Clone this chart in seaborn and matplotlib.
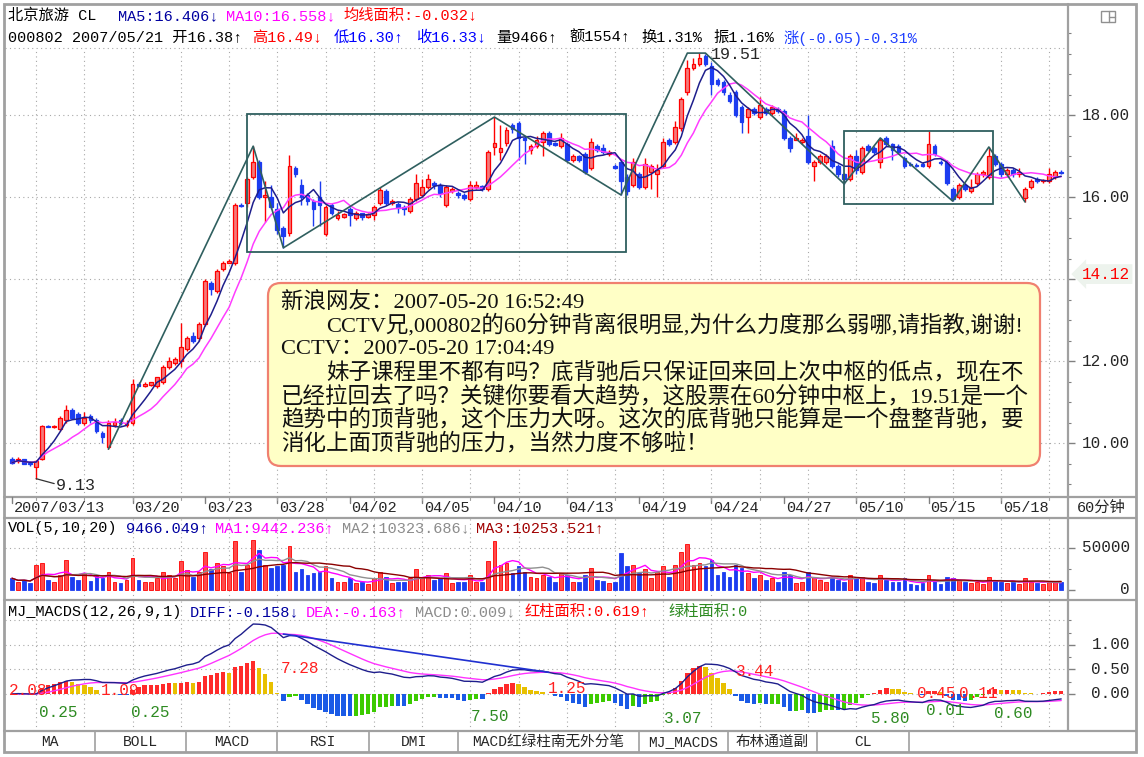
import numpy as np
import pandas as pd
import matplotlib
matplotlib.use("Agg")
import matplotlib.pyplot as plt
import matplotlib.transforms as mtrans
from matplotlib.patches import Rectangle, FancyBboxPatch
import seaborn as sns

# ---------------- data (60-minute bars, 000802 北京旅游) ----------------
opens = [9.60, 9.55, 9.60, 9.52, 9.42, 9.60, 10.42, 10.40, 10.35, 10.55,
         10.80, 10.70, 10.50, 10.65, 10.55, 10.25, 9.90, 10.45, 10.55, 10.45,
         10.50, 11.45, 11.40, 11.42, 11.40, 11.50, 11.85, 11.95, 12.00, 12.30,
         12.60, 12.55, 12.90, 13.90, 13.70, 14.25, 14.40, 14.40, 15.80, 15.85,
         16.49, 16.85, 16.00, 16.00, 15.70, 15.25, 15.12, 16.70, 16.30, 16.05,
         15.90, 16.00, 15.10, 15.80, 15.50, 15.52, 15.70, 15.50, 15.60, 15.52,
         15.55, 15.85, 16.15, 15.85, 15.82, 15.75, 15.65, 15.95, 16.05, 16.25,
         16.35, 16.30, 15.80, 16.15, 16.10, 16.05, 15.95, 16.25, 16.28, 16.20,
         17.22, 17.10, 17.32, 17.75, 17.80, 17.45, 17.15, 17.25, 17.35, 17.55,
         17.32, 17.25, 17.30, 16.90, 17.00, 17.05, 16.70, 17.25, 17.20, 17.05,
         16.75, 16.85, 16.50, 16.30, 16.55, 16.25, 16.60, 16.55, 16.75, 17.40,
         17.35, 17.68, 18.55, 19.15, 19.25, 19.45, 19.20, 18.85, 18.80, 18.50,
         18.55, 18.20, 17.95, 18.15, 17.95, 18.15, 18.05, 18.15, 18.10, 17.45,
         17.40, 17.35, 17.50, 16.75, 16.85, 16.85, 17.25, 16.75, 16.55, 16.45,
         17.00, 16.60, 17.25, 17.20, 16.85, 17.45, 17.30, 17.25, 16.95, 16.80,
         16.78, 16.80, 16.75, 17.25, 16.85, 16.85, 16.20, 16.00, 16.30, 16.15,
         16.35, 16.55, 16.50, 17.00, 16.80, 16.55, 16.65, 16.55, 15.98, 16.25,
         16.45, 16.38, 16.40, 16.50, 16.62]
highs = [9.65, 9.66, 9.62, 9.56, 9.58, 10.45, 10.45, 10.44, 10.65, 10.93,
         10.85, 10.75, 10.75, 10.70, 10.60, 10.30, 10.55, 10.60, 10.60, 10.55,
         11.55, 11.50, 11.48, 11.50, 11.62, 11.90, 12.10, 12.10, 12.93, 12.60,
         12.70, 12.95, 14.00, 13.95, 14.25, 14.45, 14.50, 15.85, 15.85, 16.50,
         17.24, 16.90, 16.40, 16.30, 15.85, 15.30, 17.02, 16.75, 16.45, 16.10,
         15.95, 16.40, 15.80, 15.85, 15.65, 15.62, 15.75, 15.65, 15.62, 15.62,
         15.80, 16.25, 16.20, 15.95, 15.88, 15.80, 16.00, 16.55, 16.45, 16.55,
         16.40, 16.35, 16.30, 16.25, 16.15, 16.10, 16.40, 16.38, 16.30, 17.15,
         17.95, 17.75, 17.70, 17.80, 17.85, 17.50, 17.30, 17.50, 17.60, 17.60,
         17.35, 17.55, 17.35, 17.05, 17.02, 17.10, 17.45, 17.30, 17.30, 17.15,
         16.80, 16.90, 16.55, 16.95, 16.60, 16.95, 16.80, 16.80, 17.45, 17.45,
         17.85, 18.45, 19.35, 19.40, 19.51, 19.50, 19.30, 18.90, 18.85, 18.55,
         18.60, 18.25, 18.20, 18.20, 18.45, 18.20, 18.25, 18.20, 18.15, 17.50,
         17.55, 17.45, 18.00, 16.90, 17.05, 17.05, 17.40, 16.80, 16.58, 17.05,
         17.15, 17.25, 17.30, 17.25, 17.44, 17.50, 17.32, 17.30, 17.00, 16.85,
         16.82, 16.85, 17.60, 17.30, 16.90, 16.90, 16.25, 16.35, 16.35, 16.45,
         16.60, 16.65, 17.22, 17.05, 16.85, 16.70, 16.70, 16.70, 16.25, 16.45,
         16.48, 16.45, 16.70, 16.65, 16.65]
lows = [9.50, 9.52, 9.48, 9.45, 9.13, 9.58, 10.38, 10.36, 10.30, 10.50,
        10.60, 10.45, 10.45, 10.50, 10.25, 10.00, 9.85, 10.40, 10.45, 10.40,
        10.45, 11.38, 11.36, 11.40, 11.35, 11.45, 11.80, 11.90, 11.85, 12.25,
        12.45, 12.50, 12.85, 13.60, 13.65, 14.20, 14.38, 14.35, 15.75, 15.75,
        16.45, 15.95, 15.40, 15.70, 15.10, 14.76, 15.05, 16.50, 15.80, 15.80,
        15.30, 15.30, 15.05, 15.55, 15.45, 15.48, 15.30, 15.45, 15.45, 15.48,
        15.45, 15.80, 15.80, 15.80, 15.60, 15.55, 15.60, 15.90, 16.00, 16.20,
        16.20, 16.00, 15.75, 16.10, 15.98, 15.92, 15.90, 16.20, 16.15, 16.15,
        17.02, 16.90, 17.25, 17.55, 16.90, 16.80, 17.05, 17.20, 17.00, 17.25,
        17.25, 17.20, 16.85, 16.85, 16.85, 16.55, 16.65, 17.10, 17.05, 17.00,
        16.68, 16.05, 16.05, 16.25, 16.20, 16.20, 16.20, 16.00, 16.70, 17.25,
        17.30, 17.60, 18.50, 19.10, 19.20, 19.20, 18.50, 18.70, 18.50, 18.30,
        17.95, 17.56, 17.56, 18.00, 17.90, 18.00, 18.00, 18.05, 17.40, 17.10,
        17.38, 17.30, 16.80, 16.40, 16.80, 16.80, 16.70, 16.50, 16.32, 16.40,
        16.55, 16.55, 17.10, 17.05, 16.70, 17.25, 16.90, 17.05, 16.70, 16.75,
        16.72, 16.72, 16.70, 17.00, 16.78, 16.30, 15.90, 15.95, 16.15, 16.10,
        16.30, 16.50, 16.45, 16.75, 16.50, 16.50, 16.50, 16.50, 15.88, 16.20,
        16.35, 16.35, 16.35, 16.45, 16.55]
closes = [9.52, 9.62, 9.50, 9.48, 9.55, 10.42, 10.40, 10.42, 10.60, 10.80,
          10.62, 10.50, 10.62, 10.55, 10.30, 10.15, 10.50, 10.52, 10.48, 10.50,
          11.45, 11.40, 11.45, 11.48, 11.60, 11.85, 12.00, 12.05, 12.35, 12.55,
          12.50, 12.90, 13.95, 13.75, 14.20, 14.40, 14.45, 15.80, 15.78, 16.45,
          16.85, 16.00, 16.05, 15.76, 15.20, 15.05, 16.76, 16.55, 16.00, 15.90,
          15.70, 15.80, 15.75, 15.60, 15.55, 15.58, 15.55, 15.60, 15.52, 15.58,
          15.75, 16.18, 15.85, 15.90, 15.72, 15.70, 15.95, 16.35, 16.25, 16.45,
          16.30, 16.10, 16.25, 16.20, 16.05, 15.98, 16.30, 16.30, 16.20, 17.10,
          17.32, 17.20, 17.63, 17.65, 17.45, 17.40, 17.25, 17.40, 17.55, 17.30,
          17.28, 17.45, 16.90, 17.00, 16.90, 16.60, 17.35, 17.15, 17.10, 17.10,
          16.70, 16.40, 16.15, 16.85, 16.25, 16.80, 16.75, 16.65, 17.35, 17.30,
          17.70, 18.40, 19.15, 19.25, 19.40, 19.25, 18.75, 18.75, 18.55, 18.35,
          18.00, 17.83, 18.15, 18.05, 18.25, 18.05, 18.20, 18.10, 17.45, 17.20,
          17.45, 17.40, 16.85, 16.85, 17.00, 17.00, 16.75, 16.55, 16.45, 17.00,
          16.65, 17.20, 17.15, 17.10, 17.40, 17.30, 17.15, 17.10, 16.75, 16.78,
          16.76, 16.75, 17.30, 17.05, 16.82, 16.35, 15.95, 16.30, 16.20, 16.25,
          16.55, 16.60, 17.00, 16.80, 16.55, 16.65, 16.55, 16.62, 16.20, 16.40,
          16.38, 16.42, 16.55, 16.60, 16.58]
volumes = [14000, 9000, 12000, 8000, 30000, 32000, 12000, 10000, 18000, 36000,
           15000, 12000, 20000, 11000, 17000, 14000, 22000, 9000, 8000, 12000,
           38000, 12000, 9000, 10000, 14000, 22000, 18000, 14000, 35000, 24000,
           16000, 22000, 45000, 25000, 32000, 28000, 20000, 58000, 22000, 30000,
           60000, 48000, 30000, 26000, 28000, 30000, 52000, 22000, 25000, 18000,
           20000, 22000, 28000, 14000, 10000, 9000, 14000, 8000, 9000, 7000,
           14000, 22000, 15000, 8000, 10000, 9000, 14000, 25000, 16000, 18000,
           12000, 14000, 20000, 8000, 9000, 10000, 18000, 9000, 10000, 35000,
           58000, 30000, 32000, 20000, 28000, 22000, 15000, 14000, 18000, 16000,
           10000, 20000, 18000, 9000, 10000, 18000, 26000, 12000, 11000, 8000,
           10000, 44000, 28000, 30000, 20000, 25000, 14000, 22000, 28000, 15000,
           30000, 45000, 55000, 30000, 32000, 28000, 36000, 18000, 22000, 15000,
           30000, 26000, 20000, 14000, 18000, 12000, 14000, 10000, 22000, 18000,
           8000, 9000, 22000, 16000, 12000, 10000, 16000, 12000, 9000, 18000,
           14000, 16000, 9000, 8000, 18000, 12000, 10000, 9000, 14000, 7000,
           6000, 8000, 18000, 12000, 7000, 15000, 14000, 12000, 9000, 8000,
           10000, 7000, 16000, 12000, 10000, 8000, 9000, 7000, 14000, 10000,
           8000, 7000, 10000, 9000, 9466]

date_labels = ["2007/03/13", "03/20", "03/23", "03/28", "04/02", "04/05", "04/10",
               "04/13", "04/19", "04/24", "04/27", "05/10", "05/15", "05/18"]
date_label_bars = [0, 20, 32, 44, 56, 68, 80, 92, 104, 116, 128, 140, 152, 164]

zigzag_bars = [16, 40, 45, 80, 101, 112, 115, 138, 144, 156, 162, 168]
zigzag_prices = [9.85, 17.24, 14.76, 17.95, 16.05, 19.51, 19.51, 16.32, 17.44, 15.90, 17.22, 15.88]

box_bars = [(38.9, 101.8), (138.0, 162.7)]
box_prices = [(14.67, 18.02), (15.83, 17.62)]

macd_area_text = ["2.08", "0.25", "1.09", "0.25", "7.28", "7.50", "1.25",
                  "3.07", "3.44", "5.80", "0.45", "0.11", "0.01", "0.60"]
macd_area_kind = ["r", "g", "r", "g", "r", "g", "r", "g", "r", "g", "r", "r", "g", "g"]
macd_area_bar = [2.7, 7.6, 17.9, 22.9, 47.8, 79.3, 92.0, 111.3, 123.2, 145.6, 153.2, 160.2, 154.7, 166.0]
macd_area_val = [0.08, -0.37, 0.08, -0.37, 0.53, -0.45, 0.12, -0.49, 0.45, -0.49, 0.02, 0.02, -0.33, -0.39]

divergence_bars = [45, 89]

comment_lines = [
    "新浪网友：2007-05-20 16:52:49",
    "CCTV兄,000802的60分钟背离很明显,为什么力度那么弱哪,请指教,谢谢!",
    "CCTV：2007-05-20 17:04:49",
    "妹子课程里不都有吗？底背驰后只保证回来回上次中枢的低点，现在不",
    "已经拉回去了吗？关键你要看大趋势，这股票在60分钟中枢上，19.51是一个",
    "趋势中的顶背驰，这个压力大呀。这次的底背驰只能算是一个盘整背驰，要",
    "消化上面顶背驰的压力，当然力度不够啦！",
]
comment_indent = [False, True, False, True, False, False, False]

tab_labels = ["MA", "BOLL", "MACD", "RSI", "DMI", "MACD红绿柱南无外分笔", "MJ_MACDS", "布林通道副", "CL"]

# ---------------- derived series ----------------
n = len(closes)
idx = np.arange(n)
o = np.array(opens); h = np.array(highs); l = np.array(lows); c = np.array(closes)
v = np.array(volumes, dtype=float)
cs = pd.Series(c)
ma5 = cs.rolling(5, min_periods=1).mean()
ma10 = cs.rolling(10, min_periods=1).mean()
vs = pd.Series(v)
vma5 = vs.rolling(5, min_periods=1).mean()
vma10 = vs.rolling(10, min_periods=1).mean()
vma20 = vs.rolling(20, min_periods=1).mean()
ema12 = cs.ewm(span=12, adjust=False).mean()
ema26 = cs.ewm(span=26, adjust=False).mean()
diff = ema12 - ema26
dea = diff.ewm(span=9, adjust=False).mean()
MACD_BAR_FACTOR = 2.0          # standard MACD bar = 2 * (DIFF - DEA)
hist = (diff - dea) * MACD_BAR_FACTOR

# ---------------- styling ----------------
sns.set_style("white")
plt.rcParams["font.family"] = ["DejaVu Sans", "Noto Sans CJK SC"]
plt.rcParams["axes.unicode_minus"] = False
MONO = ["Liberation Mono", "Noto Sans CJK SC"]
SERIF = ["Liberation Serif", "Noto Sans CJK SC"]

RED = "#FF0000"; RED_FILL = "#F47A7A"; BLUE = "#1C3CF0"
NAVY = "#0000A0"; MAG = "#FF00FF"; FRAME = "#A0A0A0"; ZZ = "#2F5F5F"

W, H = 1144, 757
fig = plt.figure(figsize=(W / 100, H / 100), dpi=100)
fig.patch.set_facecolor("white")


def rect(x0, y0, x1, y1):
    return [x0 / W, 1 - y1 / H, (x1 - x0) / W, (y1 - y0) / H]


ax_p = fig.add_axes(rect(5, 5, 1067, 497))
ax_v = fig.add_axes(rect(5, 518, 1067, 600))
ax_m = fig.add_axes(rect(5, 600, 1067, 731))
ax_o = fig.add_axes([0, 0, 1, 1], zorder=20)
ax_o.set_xlim(0, W); ax_o.set_ylim(H, 0); ax_o.axis("off")

for a in (ax_p, ax_v, ax_m):
    a.set_xlim(-1.16, 174.96)
    a.set_xticks([])
    a.set_facecolor("white")
    for s in a.spines.values():
        s.set_visible(False)
ax_p.set_ylim(8.683, 20.683)
ax_v.set_ylim(-11905, 85714)
ax_m.set_ylim(-0.755, 1.918)

# grid
GRID = dict(colors="#A8A8A8", linewidths=0.8, linestyles=(0, (1, 3)), zorder=0)
gb = np.arange(4, n, 8)
ax_p.vlines(gb, 8.683, 19.63, **GRID)
ax_v.vlines(gb, -11905, 85714, **GRID)
ax_m.vlines(gb, -0.755, 1.918, **GRID)
ax_p.hlines([10, 12, 14, 16, 18, 19.63], -1.16, 174.96, **GRID)
ax_v.hlines([50000], -1.16, 174.96, **GRID)
ax_m.hlines([1.5, 1.0, 0.5, 0.0], -1.16, 174.96, **GRID)

# ticks on the right edge
for a, maj, mnr in ((ax_p, [10, 12, 14, 16, 18], np.arange(9.0, 20.01, 0.5)),
                    (ax_v, [0, 50000], [25000]),
                    (ax_m, [0, 0.5, 1.0], [0.25, 0.75, 1.25, 1.5])):
    a.yaxis.tick_right()
    a.set_yticks(maj)
    a.set_yticks(mnr, minor=True)
    a.tick_params(axis="y", which="both", right=True, left=False, direction="out",
                  color="#808080", labelright=False, labelleft=False)
    a.tick_params(axis="y", which="major", length=6, width=1)
    a.tick_params(axis="y", which="minor", length=3, width=0.8)

# ---------------- price panel ----------------
up = c >= o
wick_col = np.where(up, RED, BLUE)
ax_p.vlines(idx, l, h, colors=wick_col, linewidth=1.0, zorder=2)
ax_p.bar(idx, np.abs(c - o), bottom=np.minimum(o, c), width=0.62,
         color=np.where(up, RED_FILL, BLUE), edgecolor=wick_col, linewidth=0.9, zorder=3)
sns.lineplot(x=idx, y=ma10.values, ax=ax_p, color="#FF3CFF", linewidth=1.1, legend=False, zorder=4)
sns.lineplot(x=idx, y=ma5.values, ax=ax_p, color="#1E1E8C", linewidth=1.1, legend=False, zorder=5)
ax_p.plot(zigzag_bars, zigzag_prices, color=ZZ, linewidth=1.2, zorder=6)
for (b0, b1), (p0, p1) in zip(box_bars, box_prices):
    ax_p.add_patch(Rectangle((b0, p0), b1 - b0, p1 - p0, fill=False, edgecolor=ZZ, linewidth=1.3, zorder=6))
low_i = int(np.argmin(l)); high_i = int(np.argmax(h))
ax_p.plot([low_i, low_i + 3.0], [l[low_i], l[low_i] - 0.12], color="#333333", linewidth=0.9, zorder=6)
ax_p.text(low_i + 3.3, l[low_i] - 0.16, f"{l[low_i]:.2f}", family=MONO, fontsize=12, va="center", ha="left")
ax_p.text(high_i + 1.9, h[high_i] - 0.04, f"{h[high_i]:.2f}", family=MONO, fontsize=12, va="center", ha="left")

# ---------------- volume panel ----------------
ax_v.bar(idx, v, width=0.62, color=np.where(up, "#FF4A4A", BLUE),
         edgecolor=np.where(up, RED, BLUE), linewidth=0.6, zorder=2)
sns.lineplot(x=idx, y=vma5.values, ax=ax_v, color=MAG, linewidth=1.0, legend=False, zorder=3)
sns.lineplot(x=idx, y=vma10.values, ax=ax_v, color="#909090", linewidth=1.0, legend=False, zorder=3)
sns.lineplot(x=idx, y=vma20.values, ax=ax_v, color="#8B0000", linewidth=1.0, legend=False, zorder=3)

# ---------------- MACD panel ----------------
prev = hist.shift(1).fillna(0).values
hv = hist.values
mcol = np.where(hv >= 0, np.where(hv >= prev, "#FF2A2A", "#E8C000"),
                np.where(hv > prev, "#3CCB00", "#1A5AE6"))
ax_m.bar(idx, hv, width=0.72, color=mcol, linewidth=0, zorder=2)
sns.lineplot(x=idx, y=dea.values, ax=ax_m, color="#FF33FF", linewidth=1.0, legend=False, zorder=3)
sns.lineplot(x=idx, y=diff.values, ax=ax_m, color="#1E1E8C", linewidth=1.0, legend=False, zorder=4)
ax_m.plot(divergence_bars, [dea.values[divergence_bars[0]], diff.values[divergence_bars[1]]],
          color="#2030D0", linewidth=1.2, zorder=5)
for t, k, bx, by in zip(macd_area_text, macd_area_kind, macd_area_bar, macd_area_val):
    ax_m.text(bx, by, t, color="#FF2020" if k == "r" else "#2E8B22", family=MONO,
              fontsize=11.5, ha="center", va="center", zorder=6)

# ---------------- frame & separators (pixel overlay) ----------------
ax_o.add_patch(Rectangle((4, 4), 1132, 748, fill=False, edgecolor=FRAME, linewidth=2))
for yy in (497, 518, 600, 731):
    ax_o.plot([4, 1136], [yy, yy], color=FRAME, linewidth=1.6)
ax_o.plot([1068, 1068], [4, 731], color=FRAME, linewidth=1.6)
ax_o.add_patch(Rectangle((1101, 11), 14, 11, fill=False, edgecolor="#909090", linewidth=1))
ax_o.plot([1109, 1109], [11, 22], color="#909090", linewidth=1)
ax_o.plot([1109, 1115], [16.5, 16.5], color="#909090", linewidth=1)

# header texts
HDR = dict(family=MONO, fontsize=11, va="center", ha="left")
for x, s, col in [(8, "北京旅游 CL", "black"), (118, "MA5:16.406↓", NAVY),
                  (226, "MA10:16.558↓", MAG), (343, "均线面积:-0.032↓", RED)]:
    ax_o.text(x, 16, s, color=col, **HDR)
for x, s, col in [(8, "000802 2007/05/21 开16.38↑", "black"), (252, "高16.49↓", RED),
                  (334, "低16.30↑", "#0000FF"), (416, "收16.33↓", "#0000FF"),
                  (496, "量9466↑", "black"), (569, "额1554↑", "black"),
                  (641, "换1.31%", "black"), (713, "振1.16%", "black"),
                  (784, "涨(-0.05)-0.31%", "#2040FF")]:
    ax_o.text(x, 38, s, color=col, **HDR)
for x, s, col in [(8, "VOL(5,10,20)", "black"), (126, "9466.049↑", NAVY),
                  (215, "MA1:9442.236↑", MAG), (342, "MA2:10323.686↓", "#8C8C8C"),
                  (476, "MA3:10253.521↑", "#A00000")]:
    ax_o.text(x, 528, s, color=col, **HDR)
for x, s, col in [(8, "MJ_MACDS(12,26,9,1)", "black"), (190, "DIFF:-0.158↓", NAVY),
                  (306, "DEA:-0.163↑", MAG), (415, "MACD:0.009↓", "#8C8C8C"),
                  (524, "红柱面积:0.619↑", RED), (668, "绿柱面积:0", "#2E8B22")]:
    ax_o.text(x, 612, s, color=col, **HDR)

# date axis labels
tdx = mtrans.blended_transform_factory(ax_p.transData, ax_o.transData)
for b, s in zip(date_label_bars, date_labels):
    ax_o.plot([b, b], [497, 503], color="#808080", linewidth=1, transform=tdx)
    ax_o.text(b + 0.3, 508, s, transform=tdx, family=MONO, fontsize=11, va="center", ha="left")
for b in gb:
    ax_o.plot([b, b], [497, 500], color="#A0A0A0", linewidth=0.8, transform=tdx)
ax_o.text(1101, 508, "60分钟", family=MONO, fontsize=11, va="center", ha="center")

# right axis labels
RL = dict(family=MONO, fontsize=11.5, va="center", ha="right")
tpp = mtrans.blended_transform_factory(ax_o.transData, ax_p.transData)
for pr in (10, 12, 16, 18):
    ax_o.text(1130, pr, f"{pr:.2f}", transform=tpp, **RL)
ax_o.text(1130, 14.12, "14.12", transform=tpp, color=RED,
          bbox=dict(boxstyle="larrow,pad=0.15", fc="#EDF3ED", ec="none"), **RL)
tpv = mtrans.blended_transform_factory(ax_o.transData, ax_v.transData)
for vv, s in ((50000, "50000"), (0, "0")):
    ax_o.text(1130, vv, s, transform=tpv, **RL)
tpm = mtrans.blended_transform_factory(ax_o.transData, ax_m.transData)
for mv in (0.0, 0.5, 1.0):
    ax_o.text(1130, mv, f"{mv:.2f}", transform=tpm, **RL)

# comment box
ax_o.add_patch(FancyBboxPatch((268, 283), 772, 183, boxstyle="round,pad=0,rounding_size=13",
                              facecolor="#FFFFC6", edgecolor="#F08070", linewidth=1.6, zorder=1))
for i, (s, ind) in enumerate(zip(comment_lines, comment_indent)):
    ax_o.text(326 if ind else 281, 302 + i * 23.6, s, family=SERIF, fontsize=16.2,
              va="center", ha="left", color="#111111", zorder=2)

# bottom tabs
seps = [4, 95, 186, 277, 369, 458, 639, 728, 817, 909]
for x in seps[1:]:
    ax_o.plot([x, x], [731, 752], color=FRAME, linewidth=1.2)
for x0, x1, s in zip(seps[:-1], seps[1:], tab_labels):
    ax_o.text((x0 + x1) / 2, 742, s, family=MONO, fontsize=10.5, va="center", ha="center")

fig.savefig("out.png", dpi=100, facecolor="white")
